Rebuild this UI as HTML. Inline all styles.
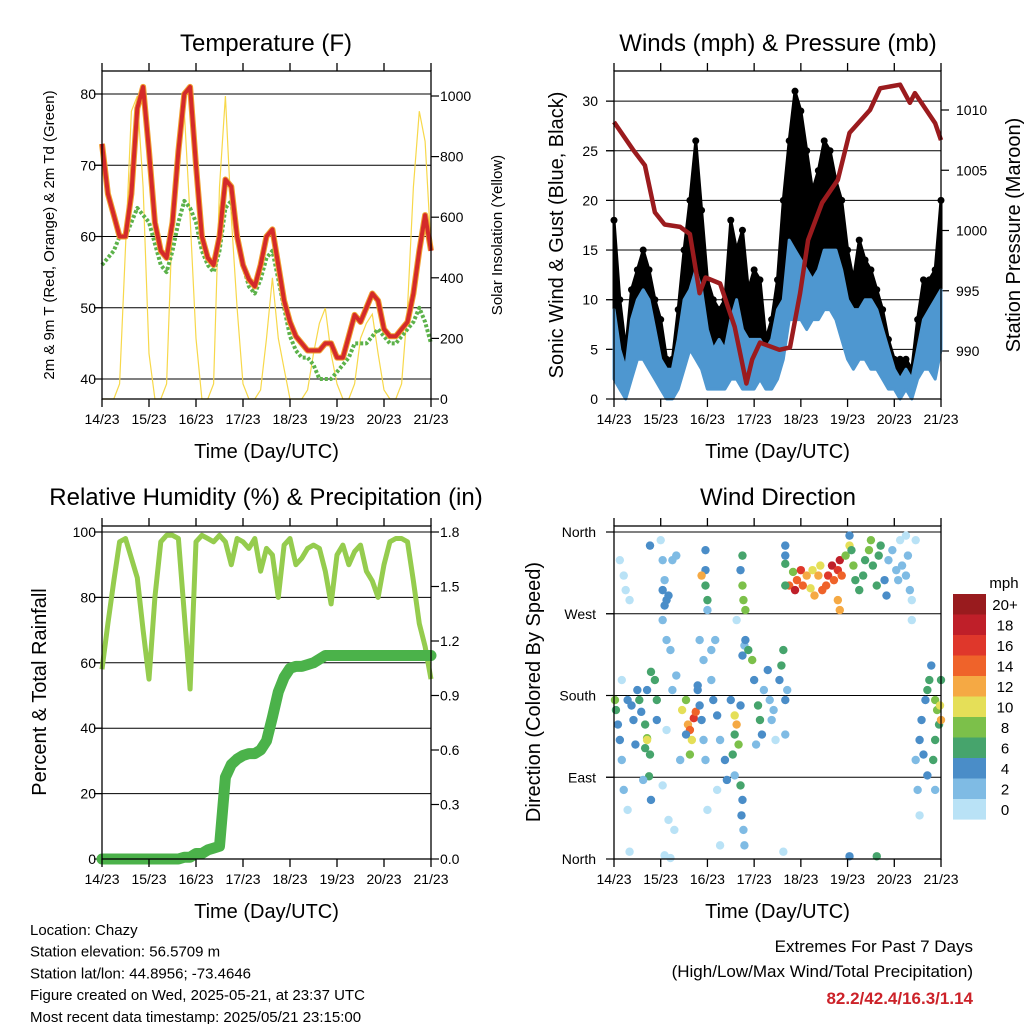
<!DOCTYPE html>
<html><head><meta charset="utf-8"><style>
html,body{margin:0;padding:0;background:#fff;}
svg{display:block;font-family:"Liberation Sans",Arial,sans-serif;}
</style></head><body>
<svg id="c" width="1024" height="1024" viewBox="0 0 1024 1024" xmlns="http://www.w3.org/2000/svg">
<rect width="1024" height="1024" fill="#fff"/>
<g id="L"></g>
</svg>
<script>
const hours=[0,3,6,9,12,15,18,21,24,27,30,33,36,39,42,45,48,51,54,57,60,63,66,69,72,75,78,81,84,87,90,93,96,99,102,105,108,111,114,117,120,123,126,129,132,135,138,141,144,147,150,153,156,159,162,165,168];
const dayTicks=["14/23","15/23","16/23","17/23","18/23","19/23","20/23","21/23"];
const tempT=[73,66,63,60,60,66,78,81,72,62,58,57,62,72,80,81,70,60,57,56,60,68,67,60,56,54,53,56,60,61,56,51,48,46,45,44,44,44,45,45,43,43,46,49,48,50,52,51,47,46,46,47,48,52,58,63,58];
const dewT=[56,57,58,60,60,62,64,63,62,59,56,55,58,62,65,64,62,58,56,55,58,64,65,60,56,53,52,54,57,58,54,50,46,44,43,43,42,40,40,40,41,42,43,45,45,45,46,47,46,45,45,46,47,48,50,48,45];
const solar=[0,0,0,50,500,950,1000,700,150,0,0,50,600,850,950,600,200,0,0,50,700,1000,600,300,50,0,0,30,200,400,200,100,0,0,0,30,150,250,300,150,50,0,0,50,200,250,280,150,30,0,0,50,300,700,950,850,500];
const windLo=[2,1,0,2,4,4,3,2,1,0,0,1,3,5,4,3,1,1,1,1,2,2,1,1,1,2,1,1,2,4,8,8,8,7,8,8,9,9,8,6,4,3,4,4,3,3,2,1,1,0,1,0,2,3,3,2,5];
const windHi=[9,5,3,8,10,11,10,7,4,3,3,6,10,11,13,11,7,5,6,5,8,10,7,6,6,6,5,6,9,10,16,15,14,13,12,13,15,15,15,13,10,9,9,10,10,9,7,5,3,2,3,2,5,8,9,10,11];
const gustHi=[18,10,5,11,13,15,13,10,8,4,4,9,15,20,26,19,12,10,9,10,18,15,17,11,13,12,6,8,12,20,26,31,29,25,21,23,26,25,22,20,15,12,16,14,13,11,9,6,4,4,4,3,8,12,12,13,20];
const presHours=[0,9.8,15.9,21,26,34,39,44,47,54.5,62,68,71,75,85,90.4,95.6,99.7,106.9,115,121,131.5,136.7,147,152,154.6,165,168];
const presMb=[1009,1006.7,1005.4,1001.5,1000.5,1000.3,999.7,994.8,996.1,995.6,992,987.3,989.3,990.7,990.1,990.3,994.8,999.2,1002.3,1004.2,1008.1,1010,1011.8,1012.1,1010.6,1011.4,1008.9,1007.5];
const rh=[58,72,85,97,98,92,86,70,55,80,97,99,99,98,75,52,97,99,98,97,99,97,90,98,97,95,98,88,95,93,80,96,98,90,92,95,96,95,88,78,93,96,90,94,96,88,85,80,90,97,98,98,97,85,72,65,55];
const precip=[0,0,0,0,0,0,0,0,0,0,0,0,0,0,0.01,0.01,0.03,0.03,0.05,0.06,0.07,0.45,0.52,0.55,0.57,0.58,0.58,0.6,0.65,0.78,0.92,1.0,1.05,1.06,1.06,1.07,1.08,1.1,1.12,1.12,1.12,1.12,1.12,1.12,1.12,1.12,1.12,1.12,1.12,1.12,1.12,1.12,1.12,1.12,1.12,1.12,1.12];
const dirTime=[0.5,1,2,3,4,5,3,5,4,7,6,8,7,10,11,9,12,13,14,16,17,18.5,19,21,22,22,18.5,24,17,17,16,18,15,19,25,26,27,25,27,29,30,32,27,34,25,28,31,26,25,26,28,30,32,35,37,38,39,41,42,40,37,39,43,44,45,43,46,47,44,46,47,47,45,47,48,48,50,51,53,54.5,57,58,60,62,63,62,64,65,66,67,50,52,48,53,54.5,62,61,65,66,65.5,66.5,67,65,66,66.5,67.5,66,63,67.5,69,71,72,74,75,76,73,77,80,82,81,79,85,86,87,88,89,88,83,88,90,92,93,94,96,97,99,101,102,103,105,106,107,109,110,112,113,115,116,117,115,116,119,121,88,88,88,121,122,123,124,126,128,129,131,132,133,135,136,137,139,140,141,143,145,146,148,150,151,152,153,153,155,147,150,155,156,157,157,158,160,161,162,163,165,166,167,167.5,168,165,164,159,161,165,168,121,135,87,8,29];
const dirDeg=[175,164,148,131,109,76,329,312,197,54,296,285,175,153,126,169,186,175,162,148,133,115,206,197,175,153,345,351,186,131,122,91,87,65,329,307,285,263,241,230,186,202,142,109,81,43,32,4,296,279,290,329,334,164,175,148,142,155,162,131,137,115,186,169,153,191,131,109,241,219,318,301,312,340,285,274,197,175,158,131,109,87,175,158,148,137,126,169,224,235,230,241,54,76,15,92,115,81,65,48,32,15,318,301,285,274,334,263,241,230,219,197,169,153,137,126,186,175,164,153,208,197,213,230,175,186,137,131,325,301,316,296,307,318,301,312,298,318,290,312,323,296,301,312,323,307,318,329,312,285,274,334,345,345,334,301,356,340,323,307,296,312,329,340,351,323,301,334,345,307,290,329,340,318,307,323,312,334,296,285,263,351,351,356,109,76,48,131,153,175,186,197,213,175,164,148,169,153,131,109,115,92,76,197,3,3,8,8,1];
const dirSpd=[9,6,4,4,2,2,1,1,1,1,1,1,4,4,4,4,4,6,4,6,8,6,6,6,6,4,4,1,4,10,6,6,2,4,2,2,4,2,2,2,2,2,1,2,1,1,1,1,4,4,4,2,2,10,8,12,14,16,14,10,4,8,4,4,4,4,2,2,2,2,4,6,12,4,6,2,2,4,4,2,4,4,4,10,12,6,8,4,4,2,2,2,1,1,1,2,6,6,4,4,2,2,4,8,8,8,6,1,4,6,8,4,6,6,4,2,2,2,2,2,4,4,6,6,4,2,2,1,6,14,8,18,14,16,14,12,10,10,12,12,10,14,14,16,18,14,16,18,14,12,12,8,10,4,4,6,4,6,8,6,6,6,6,8,8,6,6,6,6,4,4,2,2,2,2,2,2,2,2,1,1,1,1,1,2,2,1,4,4,4,6,6,4,8,8,6,10,12,6,6,4,4,2,6,4,6,1,1,1];
const speedBins=["0","2","4","6","8","10","12","14","16","18","20+"];
const speedColors=["#b9e2f6","#7fbbe4","#4a8dc8","#46a46c","#7cc04a","#e5df58","#f5a944","#ef632a","#df372b","#bf1f29","#991b1e"];
const tempTicks=[40,50,60,70,80];
const solarTicks=[0,200,400,600,800,1000];
const windTicks=[0,5,10,15,20,25,30];
const presTicks=[990,995,1000,1005,1010];
const rhTicks=[0,20,40,60,80,100];
const precipTicks=[0,0.3,0.6,0.9,1.2,1.5,1.8];
const dirTicks=[0,90,180,270,360];
const dirLabels=["North","East","South","West","North"];

const NS="http://www.w3.org/2000/svg";
const L=document.getElementById('L');
function mk(tag,attrs,parent){const e=document.createElementNS(NS,tag);for(const k in attrs)e.setAttribute(k,attrs[k]);(parent||L).appendChild(e);return e;}
function txt(s,x,y,size,anchor,extra){const e=mk('text',Object.assign({x:x,y:y,'font-size':size,'text-anchor':anchor||'middle',fill:'#000'},extra||{}));e.textContent=s;return e;}

const xL=t=>102+t/168*329, xR=t=>614+t/168*327;
const yTemp=v=>379-(v-40)*7.125, ySol=v=>399-v*0.303;
const yW=v=>399-v*9.93, yP=v=>110+(1010-v)*12.05;
const yRH=v=>859-v*3.27, yPr=v=>859-v/1.8*327;
const yD=d=>859-d/360*327;

function frame(x0,y0,x1,y1,xf,name){
  const g=mk('rect',{x:x0,y:y0,width:x1-x0,height:y1-y0,fill:'none',stroke:'#000','stroke-width':1.3});
  
  
  dayTicks.forEach((d,i)=>{const x=xf(i*24);
    const a=mk('line',{x1:x,y1:y1,x2:x,y2:y1+8,stroke:'#000','stroke-width':1.3});
    
    
    const b=mk('line',{x1:x,y1:y0,x2:x,y2:y0-8,stroke:'#000','stroke-width':1.3});
    
    
    const t=txt(d,x,y1+25,14);
    
    
  });
  const xt=txt('Time (Day/UTC)',(x0+x1)/2,y1+59,20);
  
  
}
function gridY(vals,yf,x0,x1,labels,lx,anchor,name,grid){
  vals.forEach((v,i)=>{const y=yf(v);
    if(grid){const g=mk('line',{x1:x0-8,y1:y,x2:x1,y2:y,stroke:'#000','stroke-width':1});
      
      }
    const tk=mk('line',{x1:anchor==='end'?x0-8:x1,y1:y,x2:anchor==='end'?x0:x1+8,y2:y,stroke:'#000','stroke-width':1.2});
    
    
    const t=txt(labels[i],lx,y+5,14,anchor);
    
    
  });
}
function vtitle(s,x,y,size,name){const t=txt(s,x,y,size,'middle',{transform:'rotate(-90 '+x+' '+y+')'});
  
  }
function poly(xs,ys,attrs,name){const p=mk('polyline',Object.assign({points:xs.map((x,i)=>x.toFixed(1)+','+ys[i].toFixed(1)).join(' '),fill:'none'},attrs));
  
  return p;}
function band(xs,lo,hi,fill,name){const pts=xs.map((x,i)=>x.toFixed(1)+','+hi[i].toFixed(1)).concat(xs.map((x,i)=>x.toFixed(1)+','+lo[i].toFixed(1)).reverse());
  const p=mk('polygon',{points:pts.join(' '),fill:fill,stroke:fill,'stroke-width':3,'stroke-linejoin':'round'});
  
  return p;}

[['Temperature (F)',266,51],['Winds (mph) & Pressure (mb)',778,51],['Relative Humidity (%) & Precipitation (in)',266,505],['Wind Direction',778,505]].forEach((a,i)=>{
  const t=txt(a[0],a[1],a[2],24);
  
  
});

gridY(tempTicks,yTemp,102,431,tempTicks.map(String),96,'end','temp-y',true);
gridY(solarTicks,ySol,102,431,solarTicks.map(String),440,'start','solar-y',false);
poly(hours.map(xL),solar.map(ySol),{stroke:'#f7d84a','stroke-width':1.2},'solar-line');
poly(hours.map(xL),dewT.map(yTemp),{stroke:'#5cb24a','stroke-width':4,'stroke-dasharray':'3 2','stroke-linejoin':'round'},'dewpoint-line');
poly(hours.map(xL),tempT.map(yTemp),{stroke:'#f0a030','stroke-width':6,'stroke-linejoin':'round'},'temp-9m-line');
poly(hours.map(xL),tempT.map(yTemp),{stroke:'#d42a2a','stroke-width':4,'stroke-linejoin':'round'},'temp-2m-line');
frame(102,71,431,399,xL,'temp');
vtitle('2m & 9m T (Red, Orange) & 2m Td (Green)',54,235,15,'temp-y-axis-title');
vtitle('Solar Insolation (Yellow)',502,235,15,'solar-y-axis-title');

gridY(windTicks,yW,614,941,windTicks.map(String),598,'end','wind-y',true);
gridY(presTicks,yP,614,941,presTicks.map(String),956,'start','pressure-y',false);
const gustLo=windHi.map((v,i)=>Math.min(v,gustHi[i]));
band(hours.map(xR),gustLo.map(yW),gustHi.map(yW),'#000','gust-cloud');
hours.forEach((h,i)=>{const c=mk('circle',{cx:xR(h),cy:yW(gustHi[i]),r:3.5,fill:'#000'});
  
  });
band(hours.map(xR),windLo.map(yW),windHi.map(yW),'#4e97d0','sonic-wind-band');
poly(presHours.map(xR),presMb.map(yP),{stroke:'#9b1b1e','stroke-width':4.5,'stroke-linejoin':'round'},'pressure-line');
frame(614,71,941,399,xR,'wind');
vtitle('Sonic Wind & Gust (Blue, Black)',563,235,20,'wind-y-axis-title');
vtitle('Station Pressure (Maroon)',1020,235,20,'pressure-y-axis-title');

gridY(rhTicks,yRH,102,431,rhTicks.map(String),96,'end','rh-y',true);
gridY(precipTicks,yPr,102,431,precipTicks.map(v=>v.toFixed(1)),440,'start','precip-y',false);
poly(hours.map(xL),rh.map(yRH),{stroke:'#95cc4e','stroke-width':5,'stroke-linejoin':'round'},'humidity-line');
poly(hours.map(xL),precip.map(yPr),{stroke:'#4bb24a','stroke-width':11,'stroke-linejoin':'round','stroke-linecap':'round'},'precip-line');
frame(102,526,431,859,xL,'rh');
vtitle('Percent & Total Rainfall',46,692,20,'rh-y-axis-title');

gridY(dirTicks,yD,614,941,dirLabels,596,'end','dir-y',true);
dirTime.forEach((t,i)=>{const b=Math.max(0,Math.min(10,Math.floor(dirSpd[i]/2)));
  const c=mk('circle',{cx:xR(t),cy:yD(dirDeg[i]),r:4.2,fill:speedColors[b]});
  
  });
frame(614,526,941,859,xR,'dir');
vtitle('Direction (Colored By Speed)',540,692,20,'dir-y-axis-title');

const cbT=txt('mph',1004,588,15);


speedBins.forEach((s,i)=>{const k=10-i;const y=594+i*20.5;
  const r=mk('rect',{x:953,y:y,width:33,height:20.6,fill:speedColors[k]});
  
  
  const t=txt(speedBins[k],1005,y+16,15);
  
  
});

["Location: Chazy","Station elevation: 56.5709 m","Station lat/lon: 44.8956; -73.4646","Figure created on Wed, 2025-05-21, at 23:37 UTC","Most recent data timestamp: 2025/05/21 23:15:00"].forEach((s,i)=>{
  const t=txt(s,30,935+i*21.7,15,'start');
  
  
});
const e1=txt('Extremes For Past 7 Days',973,952,17,'end');


const e2=txt('(High/Low/Max Wind/Total Precipitation)',973,977,17,'end');


const e3=txt('82.2/42.4/16.3/1.14',973,1004,17,'end',{fill:'#cc2229','font-weight':'bold'});


</script>
</body></html>
